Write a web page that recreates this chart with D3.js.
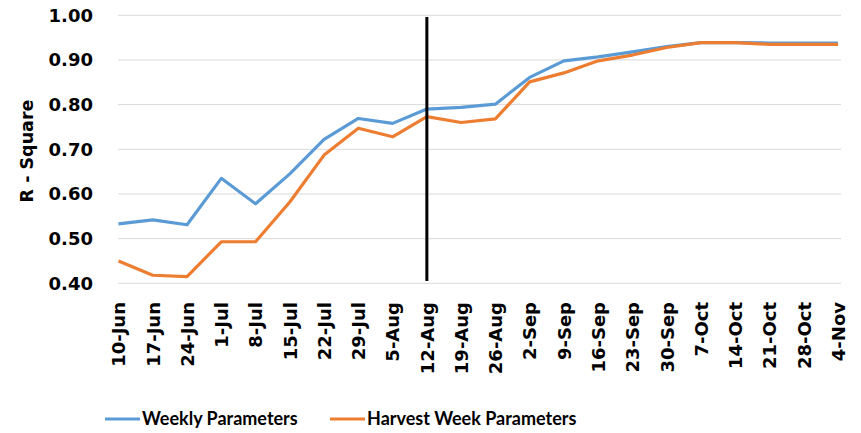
<!DOCTYPE html>
<html>
<head>
<meta charset="utf-8">
<script src="https://cdn.jsdelivr.net/npm/d3@7"></script>
<style>
  body { margin: 0; background: #fff; }
  text { font-weight: bold; fill: #000; }
</style>
</head>
<body>
<script>
var weeks = ['10-Jun', '17-Jun', '24-Jun', '1-Jul', '8-Jul', '15-Jul', '22-Jul', '29-Jul', '5-Aug',
    '12-Aug', '19-Aug', '26-Aug', '2-Sep', '9-Sep', '16-Sep', '23-Sep', '30-Sep', '7-Oct',
    '14-Oct', '21-Oct', '28-Oct', '4-Nov'];
var weekly = [0.533, 0.542, 0.531, 0.635, 0.578, 0.645, 0.722, 0.769, 0.758, 0.790, 0.794,
    0.801, 0.861, 0.898, 0.907, 0.918, 0.930, 0.939, 0.939, 0.938, 0.938, 0.938];
var harvest = [0.450, 0.418, 0.415, 0.493, 0.493, 0.582, 0.687, 0.747, 0.728, 0.773, 0.760,
    0.768, 0.851, 0.871, 0.898, 0.911, 0.928, 0.939, 0.939, 0.935, 0.935, 0.935];
var yTicks = [0.4, 0.5, 0.6, 0.7, 0.8, 0.9, 1.0];
var markerWeek = '12-Aug';

var series = [
    {name: 'Weekly Parameters', values: weekly, color: '#5B9BD5'},
    {name: 'Harvest Week Parameters', values: harvest, color: '#ED7D31'}
];

var axisFont = '"DejaVu Sans", sans-serif';

window.document.addEventListener('DOMContentLoaded', init, false);

function init() {
    var svg = d3.select('body').append('svg')
        .attr('width', 861)
        .attr('height', 433);

    var x = d3.scalePoint().domain(weeks).range([118.5, 838]);
    var y = d3.scaleLinear().domain([0.4, 1.0]).range([283.3, 15.3]);

    // gridlines
    svg.append('g')
        .selectAll('line')
        .data(yTicks)
        .enter()
            .append('line')
            .attr('x1', 118).attr('x2', 841)
            .attr('y1', (d) => y(d)).attr('y2', (d) => y(d))
            .attr('stroke', '#d9d9d9')
            .attr('stroke-width', 1);

    // y axis labels
    var yAxis = svg.append('g')
        .attr('transform', 'translate(93,0)')
        .call(d3.axisLeft(y).tickValues(yTicks).tickFormat(d3.format('.2f')).tickSize(0).tickPadding(0));
    yAxis.select('.domain').remove();
    yAxis.selectAll('text')
        .attr('font-size', 18)
        .attr('font-family', axisFont)
        .attr('font-weight', 'bold')
        .attr('fill', '#000');

    svg.append('text')
        .attr('transform', 'translate(27,151) rotate(-90)')
        .attr('text-anchor', 'middle')
        .attr('dy', '0.35em')
        .attr('font-family', axisFont)
        .attr('font-size', 17.5)
        .text('R - Square');

    // x axis labels
    var xAxis = svg.append('g')
        .attr('transform', 'translate(0,302)')
        .call(d3.axisBottom(x).tickSize(0).tickPadding(0));
    xAxis.select('.domain').remove();
    xAxis.selectAll('text')
        .attr('transform', 'rotate(-90)')
        .attr('text-anchor', 'end')
        .attr('x', 0)
        .attr('y', 0)
        .attr('dy', '0.35em')
        .attr('font-size', 18)
        .attr('font-family', axisFont)
        .attr('font-weight', 'bold')
        .attr('fill', '#000');

    // lines
    var line = d3.line()
        .x((d, i) => x(weeks[i]))
        .y((d) => y(d));

    svg.selectAll('.series')
        .data(series)
        .enter()
            .append('path')
            .attr('class', 'series')
            .attr('fill', 'none')
            .attr('stroke', (d) => d.color)
            .attr('stroke-width', 3.2)
            .attr('stroke-linejoin', 'round')
            .attr('d', (d) => line(d.values));

    // vertical marker
    svg.append('line')
        .attr('x1', x(markerWeek)).attr('x2', x(markerWeek))
        .attr('y1', 17).attr('y2', 281)
        .attr('stroke', '#000')
        .attr('stroke-width', 3);

    // legend
    var legendX = [105, 330];
    var legend = svg.selectAll('.legend')
        .data(series)
        .enter()
            .append('g')
            .attr('class', 'legend')
            .attr('transform', (d, i) => `translate(${legendX[i]},419)`);

    legend.append('line')
        .attr('x1', 0).attr('x2', 35)
        .attr('stroke', (d) => d.color)
        .attr('stroke-width', 3.2);

    legend.append('text')
        .attr('x', 37)
        .attr('dy', '0.35em')
        .attr('font-family', 'Lato, sans-serif')
        .attr('font-size', 18)
        .text((d) => d.name);
}
</script>
</body>
</html>
